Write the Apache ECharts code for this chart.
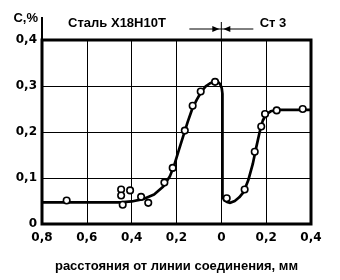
<!DOCTYPE html>
<html><head><meta charset="utf-8">
<script src="https://cdn.jsdelivr.net/npm/echarts@6.0.0/dist/echarts.min.js"></script>
<style>html,body{margin:0;padding:0;background:#fff}#c{width:340px;height:280px}</style>
</head><body><div id="c"></div>
<script>
// Tick labels
const xTickLabels = ['0,8', '0,6', '0,4', '0,2', '0', '0,2', '0,4'];
const yTickLabels = ['0', '0,1', '0,2', '0,3', '0,4'];
// Measured points (x: signed distance, negative = Х18Н10Т side; y: C, %)
const pointX = [-0.69, -0.447, -0.447, -0.44, -0.407, -0.358, -0.326, -0.254, -0.217, -0.163, -0.128, -0.092, -0.028,
                0.024, 0.104, 0.149, 0.178, 0.195, 0.247, 0.363];
const pointY = [0.051, 0.075, 0.062, 0.042, 0.073, 0.059, 0.046, 0.090, 0.122, 0.203, 0.257, 0.288, 0.309,
                0.056, 0.075, 0.157, 0.212, 0.239, 0.247, 0.250];
// Hand-traced curve
const curveX = [-0.8, -0.45, -0.40, -0.35, -0.30, -0.26, -0.23, -0.21, -0.19, -0.17, -0.15, -0.13, -0.11, -0.09, -0.07, -0.05, -0.03, -0.015, -0.005, 0.002, 0.005,
                0.005, 0.012, 0.025, 0.04, 0.06, 0.08, 0.10, 0.12, 0.14, 0.155, 0.17, 0.185, 0.20, 0.22, 0.25, 0.4];
const curveY = [0.047, 0.047, 0.049, 0.054, 0.064, 0.081, 0.103, 0.128, 0.160, 0.191, 0.222, 0.250, 0.270, 0.287, 0.299, 0.306, 0.310, 0.309, 0.304, 0.295, 0.283,
                0.060, 0.052, 0.048, 0.046, 0.050, 0.058, 0.070, 0.095, 0.130, 0.165, 0.198, 0.225, 0.238, 0.245, 0.248, 0.248];
const xName = 'расстояния от линии соединения, мм';
const yName = 'C,%';
const leftLabel = 'Сталь Х18Н10Т';
const rightLabel = 'Ст 3';

const FONT = 'Liberation Sans';
const TFONT = 'DejaVu Sans';
const chart = echarts.init(document.getElementById('c'), null, {renderer: 'canvas'});
const XMIN = -0.8, XMAX = 0.4, XINT = 0.2;
const YMIN = 0, YMAX = 0.4, YINT = 0.1;

chart.setOption({
  animation: false,
  backgroundColor: '#fff',
  grid: {left: 42, right: 29, top: 40, bottom: 56, show: true, borderColor: '#000', borderWidth: 3,
         backgroundColor: 'transparent', containLabel: false, outerBoundsMode: 'none'},
  xAxis: {
    type: 'value', min: XMIN, max: XMAX, interval: XINT,
    axisLine: {show: false}, axisTick: {show: false},
    splitLine: {show: true, lineStyle: {color: '#000', width: 1}},
    axisLabel: {color: '#000', fontFamily: TFONT, fontWeight: 'bold', fontSize: 12, margin: 8,
      formatter: v => xTickLabels[Math.round((v - XMIN) / XINT)]},
    name: xName, nameLocation: 'middle', nameGap: 36,
    nameTextStyle: {color: '#000', fontFamily: FONT, fontWeight: 'bold', fontSize: 13}
  },
  yAxis: {
    type: 'value', min: YMIN, max: YMAX, interval: YINT,
    axisLine: {show: false}, axisTick: {show: false},
    splitLine: {show: true, lineStyle: {color: '#000', width: 1}},
    axisLabel: {color: '#000', fontFamily: TFONT, fontWeight: 'bold', fontSize: 12, margin: 5,
      formatter: v => yTickLabels[Math.round((v - YMIN) / YINT)]}
  },
  series: [
    {type: 'line', data: curveX.map((x, i) => [x, curveY[i]]), showSymbol: false, symbol: 'none',
     lineStyle: {color: '#000', width: 2.7}, z: 3},
    {type: 'scatter', data: pointX.map((x, i) => [x, pointY[i]]), symbol: 'circle', symbolSize: 6.5,
     itemStyle: {color: '#fff', borderColor: '#000', borderWidth: 1.6, opacity: 1}, z: 4}
  ]
});

const x0 = chart.convertToPixel({xAxisIndex: 0}, 0);
const xl = chart.convertToPixel({xAxisIndex: 0}, XMIN);
const yTop = chart.convertToPixel({yAxisIndex: 0}, YMAX);
const ay = 29;
const txt = (t, x, y, align, f) => ({type: 'text', x: x, y: y,
  style: {text: t, fill: '#000', font: 'bold 13px "' + f + '"', textAlign: align, textVerticalAlign: 'middle'}});
chart.setOption({
  graphic: [
    {type: 'line', shape: {x1: xl, y1: 17, x2: xl, y2: yTop}, style: {stroke: '#000', lineWidth: 2}},
    {type: 'line', shape: {x1: x0, y1: 22, x2: x0, y2: yTop}, style: {stroke: '#000', lineWidth: 1}},
    {type: 'line', shape: {x1: x0 - 32, y1: ay, x2: x0 + 32, y2: ay}, style: {stroke: '#000', lineWidth: 1}},
    {type: 'polygon', shape: {points: [[x0 - 9, ay - 3], [x0 - 9, ay + 3], [x0 - 2, ay]]}, style: {fill: '#000'}},
    {type: 'polygon', shape: {points: [[x0 + 9, ay - 3], [x0 + 9, ay + 3], [x0 + 2, ay]]}, style: {fill: '#000'}},
    txt(yName, 38, 18, 'right', FONT),
    txt(leftLabel, 117, 23, 'center', FONT),
    txt(rightLabel, 273, 23, 'center', FONT)
  ]
});
</script></body></html>
